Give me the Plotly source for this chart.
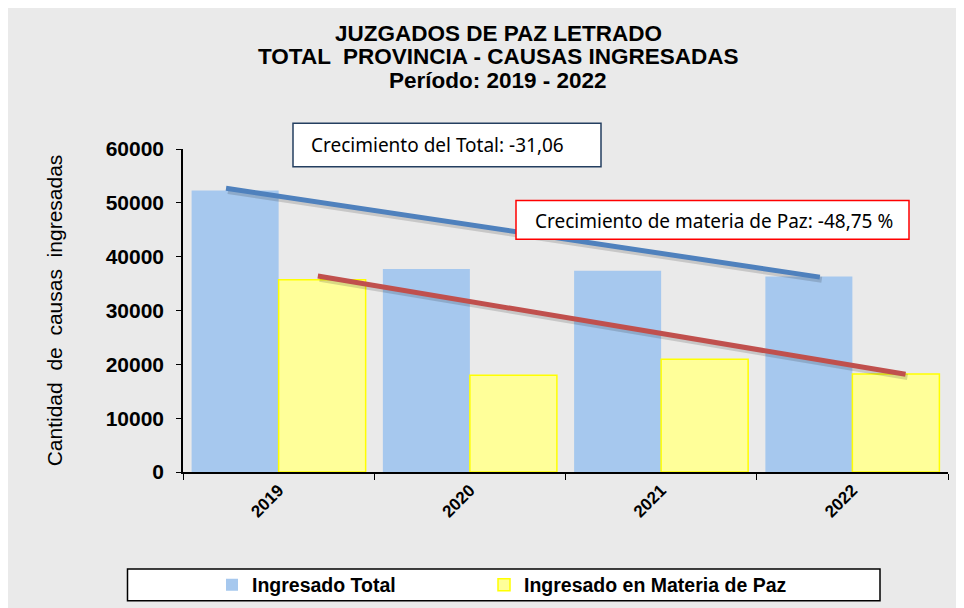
import plotly.graph_objects as go

years = ["2019", "2020", "2021", "2022"]
ingresado_total = [52300, 37700, 37400, 36300]
ingresado_paz = [35700, 17950, 20950, 18200]

# hand-drawn growth lines (start value 2019, end value 2022)
linea_total = [52700, 36200]
linea_paz = [36400, 18150]

title_lines = ["JUZGADOS DE PAZ LETRADO",
               "TOTAL  PROVINCIA - CAUSAS INGRESADAS",
               "Período: 2019 - 2022"]
nota_total = "Crecimiento del Total: -31,06"
nota_paz = "Crecimiento de materia de Paz: -48,75 %"
y_title = "Cantidad  de  causas  ingresadas"
y_ticks = [0, 10000, 20000, 30000, 40000, 50000, 60000]

W, H = 964, 608
OFF = 8  # page body margin: screen coords = figure coords + 8
L, R, T, B = 175, 24, 141, 141
pw, ph = W - L - R, H - T - B


def px(x):
    return (x - OFF - L) / pw


def py(y):
    return (H - B - (y - OFF)) / ph


BG = "#EAEAEA"
fig = go.Figure()

fig.add_trace(go.Bar(
    x=years, y=ingresado_total, name="Ingresado Total", legend="legend",
    marker=dict(color="#A6C8EE", line=dict(width=0)),
))
fig.add_trace(go.Bar(
    x=years, y=ingresado_paz, name="Ingresado en Materia de Paz", legend="legend2",
    marker=dict(color="#FFFF99", line=dict(color="#FFFF00", width=1.5)),
))

idx = [0, len(years) - 1]
tot_x = [idx[0] - 0.275, idx[1] - 0.17]
paz_x = [idx[0] + 0.205, idx[1] + 0.278]

for xs, ys, col in [(tot_x, linea_total, "#4F81BD"), (paz_x, linea_paz, "#C0504D")]:
    fig.add_trace(go.Scatter(
        x=[v + 0.01 for v in xs], y=[v - 500 for v in ys], mode="lines",
        line=dict(color="rgba(0,0,0,0.15)", width=6), xaxis="x2",
        showlegend=False, hoverinfo="skip"))
    fig.add_trace(go.Scatter(
        x=xs, y=ys, mode="lines", line=dict(color=col, width=5), xaxis="x2",
        showlegend=False, hoverinfo="skip"))

shapes = [
    # note boxes
    dict(type="rect", xref="paper", yref="paper", x0=px(293), x1=px(601),
         y0=py(167), y1=py(123), fillcolor="white",
         line=dict(color="#243F60", width=1.5)),
    dict(type="rect", xref="paper", yref="paper", x0=px(516), x1=px(909),
         y0=py(240), y1=py(201), fillcolor="white",
         line=dict(color="#FF0000", width=1.5)),
    # legend box
    dict(type="rect", xref="paper", yref="paper", x0=px(127.5), x1=px(880),
         y0=py(605), y1=py(573), fillcolor="white",
         line=dict(color="black", width=1.5)),
]

annotations = [
    dict(text=nota_total, xref="paper", yref="paper", x=px(309), y=py(145),
         xanchor="left", yanchor="middle", showarrow=False,
         font=dict(family="Noto Sans", size=19, color="black")),
    dict(text=nota_paz, xref="paper", yref="paper", x=px(533), y=py(222),
         xanchor="left", yanchor="middle", showarrow=False,
         font=dict(family="Noto Sans", size=19, color="black")),
]
for i, line in enumerate(title_lines):
    annotations.append(dict(
        text="<b>" + line + "</b>", xref="paper", yref="paper", x=px(498), y=py(32 + 24 * i),
        xanchor="center", yanchor="middle", showarrow=False,
        font=dict(family="Liberation Sans, Arial", size=22.5, color="black")))

leg_font = dict(size=19.5, family="Liberation Sans, Arial", weight="bold", color="black")

fig.update_layout(
    width=W, height=H,
    margin=dict(l=L, r=R, t=T, b=B),
    paper_bgcolor=BG, plot_bgcolor=BG,
    barmode="group", bargap=0.09, bargroupgap=0,
    font=dict(family="Liberation Sans, Arial", color="black"),
    xaxis=dict(type="category", tickson="boundaries", ticks="outside", ticklen=6,
               tickcolor="black", showline=True, linecolor="black", linewidth=1.5,
               showgrid=False, tickangle=-45, automargin=False,
               tickfont=dict(size=17, family="Liberation Sans, Arial", weight="bold"),
               range=[-0.5, 3.5]),
    xaxis2=dict(overlaying="x", range=[-0.5, 3.5], visible=False),
    yaxis=dict(range=[0, 60000], tickvals=y_ticks, ticktext=[str(v) for v in y_ticks],
               ticks="outside", ticklen=5, tickcolor="black", showline=True,
               linecolor="black", linewidth=1.5, showgrid=False, zeroline=False,
               automargin=False, ticklabelstandoff=8,
               tickfont=dict(size=21, family="Liberation Sans, Arial", weight="bold"),
               title=dict(text=y_title, standoff=37,
                          font=dict(size=21, family="Liberation Sans, Arial"))),
    legend=dict(x=px(212), xanchor="left", y=py(589), yanchor="middle",
                bgcolor="rgba(0,0,0,0)", borderwidth=0, font=leg_font),
    legend2=dict(x=px(484), xanchor="left", y=py(589), yanchor="middle",
                 bgcolor="rgba(0,0,0,0)", borderwidth=0, font=leg_font),
    shapes=shapes, annotations=annotations,
)

fig.write_html("out.html")
